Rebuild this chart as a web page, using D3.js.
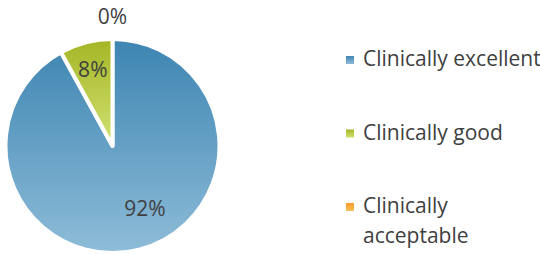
<!DOCTYPE html>
<html>
<head>
<meta charset="utf-8">
<script src="https://cdn.jsdelivr.net/npm/d3@7"></script>
<style>
  body { margin: 0; background: #fff; }
  text { font-family: "Open Sans", sans-serif; fill: #404040; }
</style>
</head>
<body>
<div id="chart"></div>
<script>
var categories = ["Clinically excellent", "Clinically good", "Clinically acceptable"];
var values = [92, 8, 0];
var labels = ["92%", "8%", "0%"];
var legendLines = [["Clinically excellent"], ["Clinically good"], ["Clinically", "acceptable"]];

var width = 540, height = 254;
var cx = 112.5, cy = 146, R = 107;

var svg = d3.select("#chart").append("svg").attr("width", width).attr("height", height);
var defs = svg.append("defs");

// each slice gets its own top-to-bottom gradient (excel style)
var grads = [
  ["#3d85b2", "#8ebcd8"],
  ["#a4b626", "#d3e172"],
  ["#f79a26", "#fbbf5c"]
];
grads.forEach(function(g, i) {
  var lg = defs.append("linearGradient").attr("id", "grad" + i)
    .attr("x1", 0).attr("x2", 0).attr("y1", 0).attr("y2", 1);
  lg.append("stop").attr("offset", "0%").attr("stop-color", g[0]);
  lg.append("stop").attr("offset", "100%").attr("stop-color", g[1]);
});

var pie = d3.pie().sort(null).value(function(d) { return d; });
var arcs = pie(values);
var arc = d3.arc().innerRadius(0).outerRadius(R);

var g = svg.append("g").attr("transform", "translate(" + cx + "," + cy + ")");

g.selectAll("path.slice")
  .data(arcs.filter(function(d) { return d.value > 0; })).join("path")
  .attr("class", "slice")
  .attr("d", arc)
  .attr("fill", function(d) { return "url(#grad" + d.index + ")"; })
  .attr("stroke", "#fff")
  .attr("stroke-width", 4)
  .attr("stroke-linejoin", "round");

// data labels (roughly like excel best fit)
g.selectAll("text.lbl")
  .data(arcs).join("text")
  .attr("class", "lbl")
  .attr("text-anchor", "middle")
  .attr("font-size", 21)
  .attr("transform", function(d) {
    var mid = (d.startAngle + d.endAngle) / 2;
    var r = 0.74 * R;
    if (d.value == 0) r = R + 22;
    else if (d.value > 50) { mid -= 13 * Math.PI / 180; r = 0.66 * R; }
    return "translate(" + (Math.sin(mid) * r) + "," + (-Math.cos(mid) * r) + ")";
  })
  .attr("dy", "0.35em")
  .text(function(d, i) { return labels[i]; });

// legend
var legY = d3.scalePoint().domain(categories).range([59, 206]);
var leg = svg.append("g").selectAll("g")
  .data(categories).join("g")
  .attr("transform", function(d) { return "translate(346," + legY(d) + ")"; });

leg.append("rect")
  .attr("x", 0).attr("y", -3).attr("width", 8).attr("height", 8)
  .attr("fill", function(d, i) { return "url(#grad" + i + ")"; });

leg.append("text")
  .attr("x", 17)
  .attr("y", 0)
  .attr("font-size", 21)
  .selectAll("tspan")
  .data(function(d, i) { return legendLines[i]; }).join("tspan")
  .attr("x", 17)
  .attr("dy", function(d, j) { return j == 0 ? "0.35em" : "1.4em"; })
  .text(function(d) { return d; });
</script>
</body>
</html>
